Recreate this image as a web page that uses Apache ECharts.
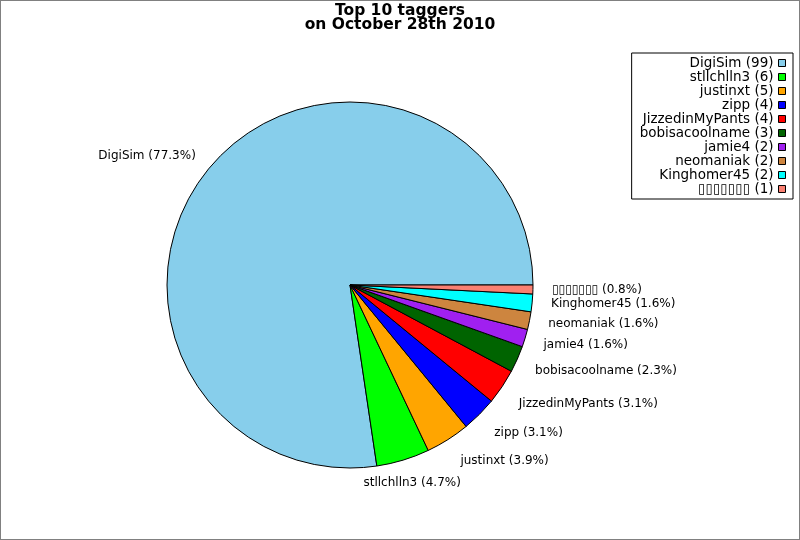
<!DOCTYPE html>
<html><head><meta charset="utf-8">
<script src="https://cdn.jsdelivr.net/npm/echarts@6/dist/echarts.min.js"></script>
<style>html,body{margin:0;padding:0;background:#fff}#c{width:800px;height:540px;box-sizing:border-box;border:1px solid #808080}</style>
</head><body><div id="c"></div>
<script>
const names = ['DigiSim','stllchlln3','justinxt','zipp','JizzedinMyPants','bobisacoolname','jamie4','neomaniak','Kinghomer45','\u25AF\u25AF\u25AF\u25AF\u25AF\u25AF\u25AF'];
const counts = [99,6,5,4,4,3,2,2,2,1];
const colors = ['#87CEEB','#00FF00','#FFA500','#0000FF','#FF0000','#006400','#A020F0','#CD853F','#00FFFF','#FA8072'];
const titleLines = ['Top 10 taggers','on October 28th 2010'];

const total = counts.reduce((a,b)=>a+b,0);
const data = names.map((n,i)=>({name:n,value:counts[i],itemStyle:{color:colors[i]}}));
const CX = 349, CY = 284;
const chart = echarts.init(document.getElementById('c'));
chart.setOption({
  animation:false,
  backgroundColor:'#fff',
  title:{text:titleLines.join('\n'),left:'center',top:-2,
    textStyle:{fontFamily:'DejaVu Sans',fontWeight:'bold',fontSize:15.5,lineHeight:14,color:'#000'}},
  legend:{orient:'vertical',right:6,top:52,align:'right',
    itemWidth:7,itemHeight:7,itemGap:0,icon:'rect',itemTextGap:5,
    padding:[3,7,3,8],borderColor:'#000',borderWidth:1,backgroundColor:'#fff',
    itemStyle:{borderColor:'#000',borderWidth:1},
    textStyle:{fontFamily:'DejaVu Sans',fontSize:13.5,lineHeight:11.3,color:'#000'},
    formatter:function(n){const i=names.indexOf(n);return n+' ('+counts[i]+')';},
    data:names},
  series:[{type:'pie',center:[CX,CY],radius:183,startAngle:0,clockwise:false,
    avoidLabelOverlap:true,
    itemStyle:{borderColor:'#000',borderWidth:1},
    label:{show:true,position:'outside',fontFamily:'DejaVu Sans',fontSize:12,color:'#000',
      formatter:function(p){return p.name+' ('+(p.value/total*100).toFixed(1)+'%)';}},
    labelLine:{show:false,length:14,length2:0},
    labelLayout:function(p){
      const r=p.labelRect;
      const my=r.y+r.height/2-CY;
      const f=Math.max(0,Math.min(1,(my-40)/60));
      const out={dy:9*f};
      if(my>0 && r.x-CX<80 && r.x>CX) out.dx=-r.width/2;
      return out;
    },
    emphasis:{disabled:true},
    data:data}]
});
</script></body></html>
